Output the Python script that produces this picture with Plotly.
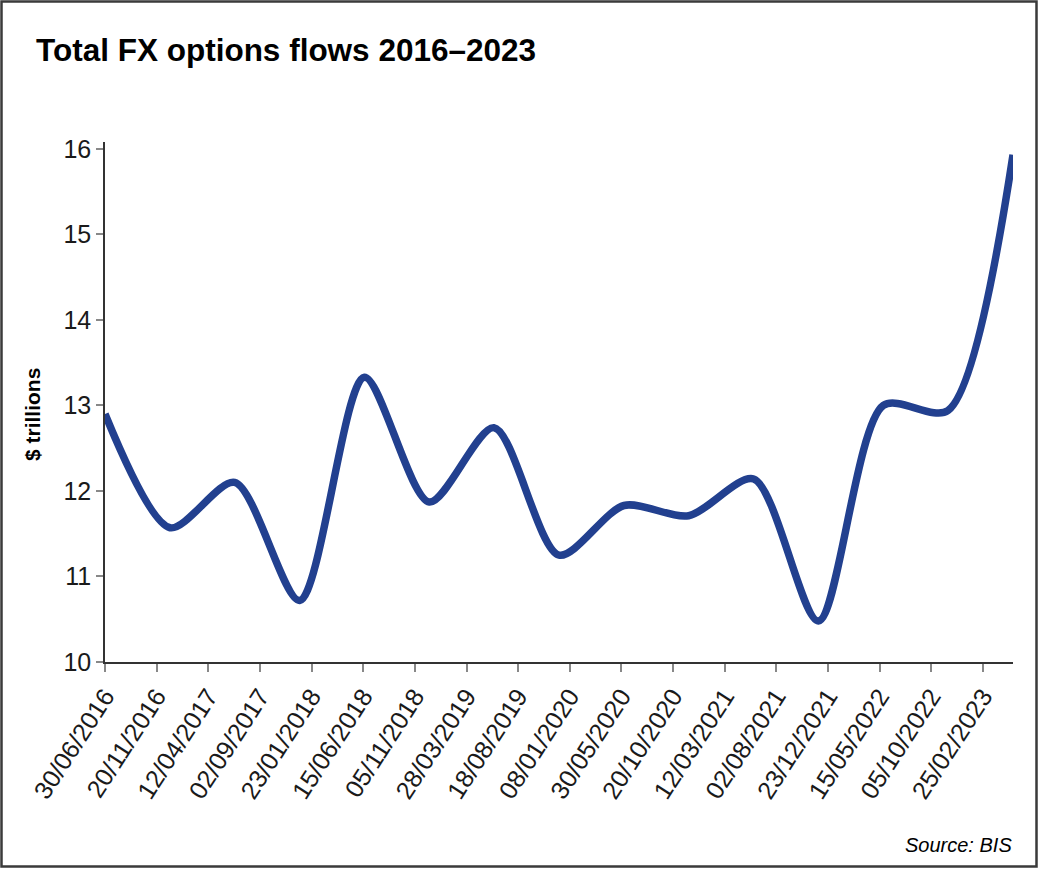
import plotly.graph_objects as go
import pandas as pd

# Data
dates = ["2016-06-30", "2016-12-27", "2017-06-24", "2017-12-21", "2018-06-18",
         "2018-12-15", "2019-06-12", "2019-12-09", "2020-06-06", "2020-12-02",
         "2021-05-31", "2021-11-26", "2022-05-25", "2022-11-20", "2023-05-19"]
flows = [12.9, 11.57, 12.1, 10.72, 13.33, 11.87, 12.74, 11.25, 11.83, 11.71,
         12.14, 10.48, 13.0, 12.94, 15.93]

tick_labels = ["30/06/2016", "20/11/2016", "12/04/2017", "02/09/2017", "23/01/2018",
               "15/06/2018", "05/11/2018", "28/03/2019", "18/08/2019", "08/01/2020",
               "30/05/2020", "20/10/2020", "12/03/2021", "02/08/2021", "23/12/2021",
               "15/05/2022", "05/10/2022", "25/02/2023"]
tick_vals = [pd.to_datetime(t, dayfirst=True).strftime("%Y-%m-%d") for t in tick_labels]

y_ticks = [10, 11, 12, 13, 14, 15, 16]

W, H = 1039, 869
L, R, T, B = 105, 26, 142, 207
pw, ph = W - L - R, H - T - B

def px(x):
    return (x - L) / pw

def py(y):
    return (H - B - y) / ph

fig = go.Figure()
fig.add_trace(go.Scatter(
    x=dates, y=flows, mode="lines",
    line=dict(color="#22408f", width=7.5, shape="spline", smoothing=0.8),
    hoverinfo="x+y", showlegend=False,
))

tickfont = dict(family="Liberation Sans, Arial, sans-serif", size=25, color="#1a1a1a")

fig.update_layout(
    width=W, height=H,
    margin=dict(l=L, r=R, t=T, b=B),
    paper_bgcolor="white", plot_bgcolor="white",
    xaxis=dict(
        type="date", range=[dates[0], dates[-1]],
        tickmode="array", tickvals=tick_vals, ticktext=tick_labels,
        tickangle=-57, tickfont=tickfont,
        showgrid=False, zeroline=False,
        showline=True, linecolor="#333333", linewidth=1.5,
        ticks="outside", ticklen=8, tickcolor="#888888", tickwidth=1.5,
        automargin=False,
    ),
    yaxis=dict(
        range=[10, 16.08], tickmode="array", tickvals=y_ticks,
        tickfont=tickfont,
        showgrid=False, zeroline=False,
        showline=True, linecolor="#333333", linewidth=1.5,
        ticks="outside", ticklen=7, tickcolor="#888888", tickwidth=1.5,
        automargin=False,
    ),
    annotations=[
        dict(text="<b>Total FX options flows 2016–2023</b>", xref="paper", yref="paper",
             x=px(34), y=py(50), xanchor="left", yanchor="middle", showarrow=False,
             font=dict(family="Liberation Sans, Arial, sans-serif", size=31.5, color="#000000")),
        dict(text="<b>$ trillions</b>", xref="paper", yref="paper",
             x=px(32), y=py(415), xanchor="center", yanchor="middle", showarrow=False,
             textangle=-90,
             font=dict(family="Liberation Sans, Arial, sans-serif", size=21, color="#000000")),
        dict(text="<i>Source: BIS</i>", xref="paper", yref="paper",
             x=px(1014), y=py(845), xanchor="right", yanchor="middle", showarrow=False,
             font=dict(family="Liberation Sans, Arial, sans-serif",
                       size=20, color="#000000")),
    ],
    shapes=[
        dict(type="rect", xref="paper", yref="paper",
             x0=px(1.5), x1=px(1036.5), y0=py(866.5), y1=py(1.5),
             line=dict(color="#3a3a3a", width=2.5), fillcolor="rgba(0,0,0,0)", layer="above"),
    ],
)

fig.write_html("out.html",
               config={"displayModeBar": False},
               post_script="document.body.style.margin='0';document.body.style.overflow='hidden';")
